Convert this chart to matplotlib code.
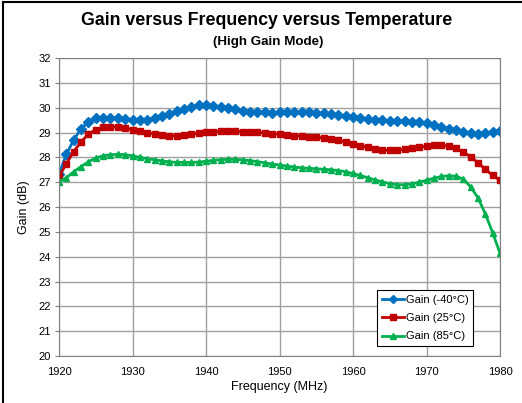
import numpy as np
import matplotlib
matplotlib.use("Agg")
import matplotlib.pyplot as plt
from matplotlib.lines import Line2D

plt.rcParams['font.family'] = ['Liberation Sans', 'DejaVu Sans']

# --- Datos (1 MHz por punto) ---
freq_mhz = np.arange(1920, 1981)

gain_m40 = [27.33, 28.12, 28.70, 29.15, 29.43, 29.57, 29.60, 29.60, 29.58, 29.55,
            29.51, 29.49, 29.52, 29.58, 29.66, 29.75, 29.85, 29.95, 30.04, 30.09,
            30.10, 30.08, 30.03, 29.98, 29.93, 29.88, 29.84, 29.82, 29.81, 29.80,
            29.81, 29.82, 29.82, 29.82, 29.81, 29.79, 29.77, 29.73, 29.70, 29.66,
            29.62, 29.57, 29.54, 29.52, 29.50, 29.47, 29.46, 29.46, 29.43, 29.42,
            29.37, 29.30, 29.24, 29.15, 29.09, 29.03, 28.99, 28.96, 28.99, 29.03, 29.08]

gain_25 = [27.22, 27.75, 28.23, 28.63, 28.93, 29.12, 29.22, 29.24, 29.22, 29.18,
           29.12, 29.05, 28.99, 28.94, 28.89, 28.87, 28.87, 28.89, 28.93, 28.98,
           29.02, 29.04, 29.05, 29.05, 29.05, 29.04, 29.02, 29.01, 28.99, 28.96,
           28.93, 28.90, 28.88, 28.85, 28.83, 28.81, 28.78, 28.74, 28.69, 28.62,
           28.55, 28.47, 28.40, 28.34, 28.29, 28.28, 28.29, 28.32, 28.36, 28.41,
           28.45, 28.49, 28.49, 28.45, 28.36, 28.22, 28.02, 27.78, 27.52, 27.27, 27.08]

gain_85 = [27.02, 27.18, 27.42, 27.63, 27.82, 27.98, 28.06, 28.11, 28.12, 28.11,
           28.06, 28.00, 27.95, 27.90, 27.86, 27.82, 27.80, 27.80, 27.80, 27.81,
           27.84, 27.88, 27.91, 27.92, 27.92, 27.90, 27.87, 27.83, 27.78, 27.73,
           27.69, 27.65, 27.61, 27.58, 27.56, 27.54, 27.52, 27.50, 27.47, 27.42,
           27.35, 27.27, 27.18, 27.09, 27.01, 26.94, 26.90, 26.90, 26.93, 27.00,
           27.08, 27.16, 27.23, 27.26, 27.24, 27.13, 26.81, 26.37, 25.72, 24.96, 24.13]

fig = plt.figure(figsize=(5.22, 4.03), dpi=100)
ax = fig.add_axes([0.113, 0.1166, 0.845, 0.7394])

# borde izquierdo y superior de la figura
fig.add_artist(Line2D([0.006, 0.006], [0, 0.995], transform=fig.transFigure, color='black', lw=1.5))
fig.add_artist(Line2D([0.006, 1.0], [0.995, 0.995], transform=fig.transFigure, color='black', lw=1.5))

ax.plot(freq_mhz, gain_m40, '-D', color='#0070C0', lw=2, ms=4.8, label='Gain (-40°C)')
ax.plot(freq_mhz, gain_25, '-s', color='#C00000', lw=2, ms=5, label='Gain (25°C)')
ax.plot(freq_mhz, gain_85, '-^', color='#00B050', lw=2, ms=5, label='Gain (85°C)')

ax.set_xlim(1920, 1980)
ax.set_ylim(20, 32)
ax.set_xticks(np.arange(1920, 1981, 10))
ax.set_yticks(np.arange(20, 33, 1))
ax.grid(True, color='#A0A0A0', lw=1)
ax.set_axisbelow(True)
for s in ax.spines.values():
    s.set_color('#808080')
ax.tick_params(axis='x', length=0, labelsize=8, pad=8)
ax.tick_params(axis='y', length=3, color='#808080', labelsize=8, pad=3)

ax.set_xlabel('Frequency (MHz)', fontsize=9, labelpad=3)
ax.set_ylabel('Gain (dB)', fontsize=9, labelpad=6)

fig.text(0.511, 0.948, 'Gain versus Frequency versus Temperature', ha='center', va='center',
         fontsize=12.8, fontweight='bold')
fig.text(0.513, 0.895, '(High Gain Mode)', ha='center', va='center',
         fontsize=9.6, fontweight='bold')

leg = ax.legend(loc='lower right', bbox_to_anchor=(0.939, 0.034), borderaxespad=0,
                fontsize=8, fancybox=False, framealpha=1, edgecolor='black',
                handlelength=2.0, labelspacing=0.75, borderpad=0.4, handletextpad=0.2,
                markerscale=0.8)
leg.get_frame().set_linewidth(0.8)

fig.savefig('out.png', dpi=100)
